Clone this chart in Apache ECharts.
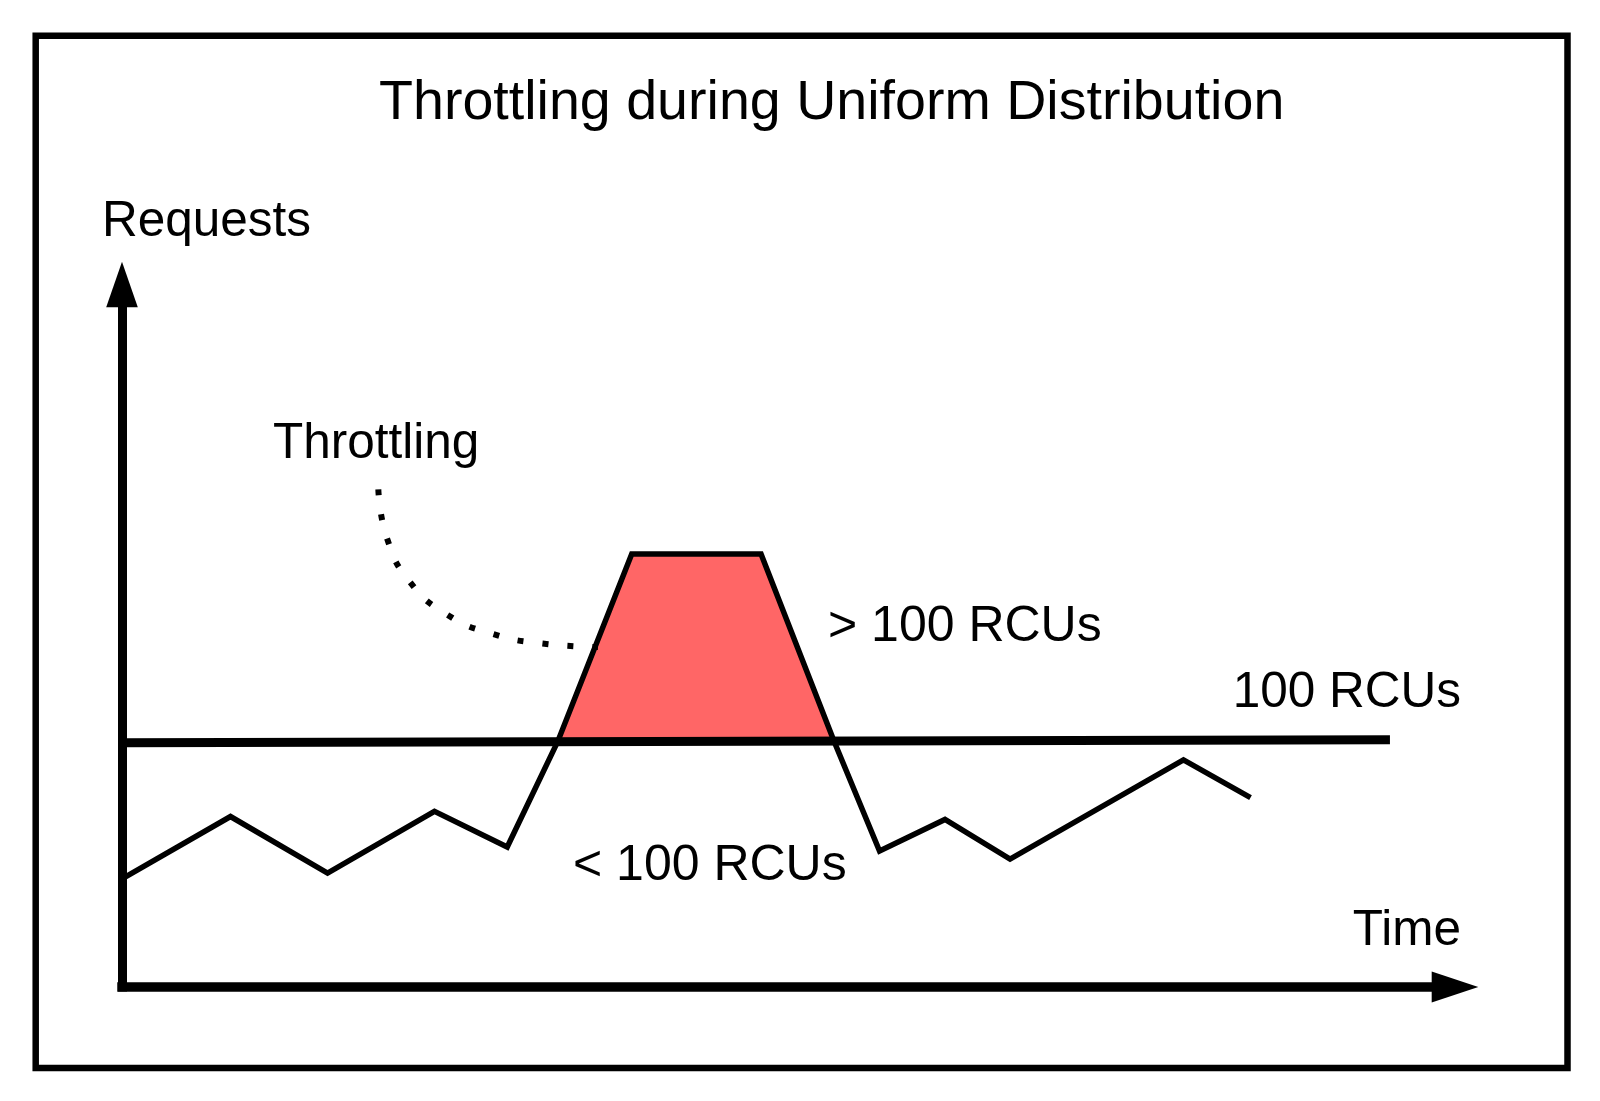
<!DOCTYPE html>
<html>
<head>
<meta charset="utf-8">
<script src="https://cdn.jsdelivr.net/npm/echarts@6/dist/echarts.min.js"></script>
<style>
  html, body { margin: 0; padding: 0; background: #ffffff; }
  #chart { width: 1600px; height: 1101px; }
</style>
</head>
<body>
<div id="chart"></div>
<script>
// ---- data (time units 0..100, request units where 100 = 100 RCUs) ----
const requestTime = [0, 8.14, 15.42, 23.44, 28.9, 32.69, 38.24, 47.94, 53.41, 56.83, 61.74, 66.62, 79.63, 84.66];
const requestLoad = [44, 69.3, 46.3, 71.4, 56.9, 99.8, 176, 176, 100, 55.3, 68.1, 52, 92.3, 77];
const capacityTime = [0, 95.12];
const capacityLoad = [99.3, 100.5];
const throttleCurveTime = [19.23, 19.88, 21.58, 24.36, 27.76, 31.43, 35.7];
const throttleCurveLoad = [202.3, 182.4, 164.8, 151.5, 143.6, 139.7, 138.2];
const chartTitle = 'Throttling during Uniform Distribution';
const yAxisName = 'Requests';
const xAxisName = 'Time';
const capacityLabel = '100 RCUs';
const aboveLabel = '> 100 RCUs';
const belowLabel = '< 100 RCUs';
const throttleLabel = 'Throttling';

const zip = (xs, ys) => xs.map((x, i) => [x, ys[i]]);
const requestPts = zip(requestTime, requestLoad);
const excessPts = requestPts.filter(p => p[1] >= 99.5);

const FONT = '"Liberation Sans", Arial, Helvetica, sans-serif';
const chart = echarts.init(document.getElementById('chart'), null, { renderer: 'canvas' });

function txt(text, x, y, size, align) {
  return {
    type: 'text', x: x, y: y, z: 100,
    style: { text: text, fontSize: size, fontFamily: FONT, fill: '#000', align: align, verticalAlign: 'middle' }
  };
}

chart.setOption({
  animation: false,
  backgroundColor: '#ffffff',
  title: {
    text: chartTitle, left: 374, top: 71, textAlign: 'left',
    textStyle: { fontSize: 55.6, fontWeight: 'normal', fontFamily: FONT, color: '#000' }
  },
  grid: { left: 122, right: 145, top: 284.5, bottom: 114, containLabel: false },
  xAxis: {
    type: 'value', min: 0, max: 100,
    axisLine: { show: true, symbol: ['none', 'triangle'], symbolSize: [31, 46.6],
      lineStyle: { color: '#000', width: 9.5, cap: 'square' } },
    axisTick: { show: false }, axisLabel: { show: false }, splitLine: { show: false }
  },
  yAxis: {
    type: 'value', min: 0, max: 285.6,
    axisLine: { show: true, symbol: ['none', 'triangle'], symbolSize: [31.6, 45.6],
      lineStyle: { color: '#000', width: 9, cap: 'square' } },
    axisTick: { show: false }, axisLabel: { show: false }, splitLine: { show: false }
  },
  graphic: [
    { type: 'rect', z: -10, shape: { x: 35.7, y: 35.7, width: 1531.8, height: 1032.3 },
      style: { fill: 'none', stroke: '#000', lineWidth: 6.5 } },
    txt(yAxisName, 102, 222, 49.5, 'left'),
    txt(xAxisName, 1461, 931, 49.5, 'right'),
    txt(capacityLabel, 1461, 693, 49.5, 'right'),
    txt(throttleLabel, 273, 444.5, 49.5, 'left'),
    txt(aboveLabel, 828, 627.5, 50, 'left'),
    txt(belowLabel, 573, 866, 50, 'left')
  ],
  series: [
    {
      name: 'Throttled excess', type: 'custom', coordinateSystem: 'cartesian2d', z: 1,
      data: excessPts,
      renderItem: function (params, api) {
        if (params.dataIndex !== 0) return null;
        const pts = excessPts.map(p => api.coord(p));
        return { type: 'polygon', shape: { points: pts }, style: { fill: '#FF6666', stroke: 'none' } };
      }
    },
    {
      name: 'Throttling pointer', type: 'line', z: 2, smooth: 0.5, symbol: 'none',
      data: zip(throttleCurveTime, throttleCurveLoad),
      lineStyle: { color: '#000', width: 6, type: [6, 19], cap: 'butt' }
    },
    {
      name: 'Capacity', type: 'line', z: 3, symbol: 'none',
      data: zip(capacityTime, capacityLoad),
      lineStyle: { color: '#000', width: 9, cap: 'butt' }
    },
    {
      name: 'Requests', type: 'line', z: 4, symbol: 'none',
      data: requestPts,
      lineStyle: { color: '#000', width: 5.5, join: 'miter', cap: 'butt' }
    }
  ]
});
</script>
</body>
</html>
